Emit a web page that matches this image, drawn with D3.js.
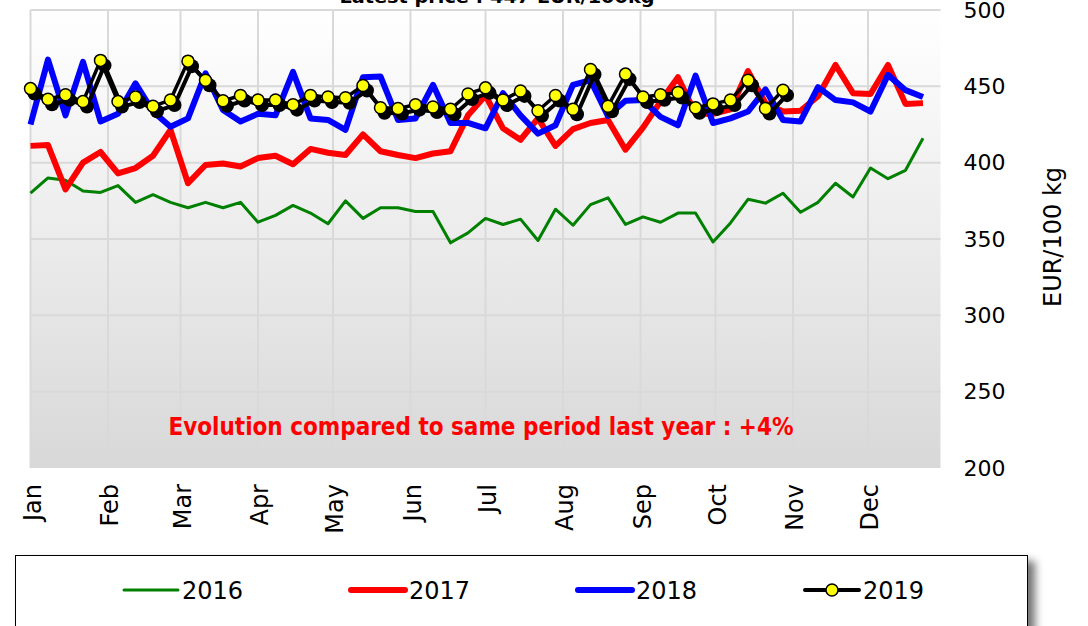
<!DOCTYPE html>
<html>
<head>
<meta charset="utf-8">
<script src="https://cdn.jsdelivr.net/npm/d3@7"></script>
<style>
  html, body { margin: 0; padding: 0; background: #fff; }
  svg { display: block; font-family: "DejaVu Sans", Verdana, sans-serif; }
</style>
</head>
<body>
<svg id="chart" width="1088" height="626"></svg>
<script>
// ── Data: weekly prices, EUR/100 kg ─────────────────────────────────────────
const years = ["2016", "2017", "2018", "2019"];

const y2016 = [380, 390, 388.5, 381.5, 380.5, 385, 374, 379, 374, 370.5,
               374, 370.5, 374, 361, 365.5, 372, 367, 360, 375, 363.5,
               370.5, 370.5, 368, 368, 347.5, 354, 363.5, 359.5, 363, 349,
               369.5, 359, 372.5, 377, 359.5, 364.5, 361, 367, 367, 348,
               360.5, 376, 373.5, 380, 367.5, 374, 386.5, 377.5, 396.5, 389.5,
               395, 416];

const y2017 = [411, 411.5, 382.5, 400, 407, 393, 396.5, 404.5, 421.5, 386.5,
               398.5, 399.5, 397.5, 403, 404.5, 399, 409, 406.5, 405, 418.5,
               407.5, 405, 403, 406, 407.5, 431, 444, 422.5, 415, 429,
               411, 422, 426, 428, 408.5, 423, 440, 456, 432, 432,
               435, 460, 439, 433.5, 434, 443.5, 464, 445.5, 445, 464,
               438.5, 439];

const y2018 = [425, 467.5, 431, 466, 427, 432, 452, 433.5, 423.5, 429,
               458.5, 434.5, 427, 432, 431, 459.5, 429, 428, 421.5, 456,
               456.5, 428, 429, 451, 426, 426, 422.5, 445.5, 431, 419,
               424.5, 451, 454, 430.5, 440.5, 441, 430, 424.5, 457, 426,
               429, 433.5, 448, 428, 427, 449.5, 441, 439.5, 433.5, 457.5,
               447.5, 443];

const y2019 = [448.5, 441.5, 444.5, 440, 467, 440, 443, 437, 441, 466.5,
               454, 440.5, 444, 441, 441, 438, 444, 443, 442.5, 450.5,
               436, 435.5, 438, 436.5, 435, 445, 449, 441, 447, 434,
               444, 435, 461, 437, 458, 443, 444.5, 446, 436, 438.5,
               441, 454, 435.5, 447.5];

const yTicks = [200, 250, 300, 350, 400, 450, 500];
const titleText = "Latest price : 447 EUR/100kg";
const noteText = "Evolution compared to same period last year : +4%";
const yLabel = "EUR/100 kg";

// ── Layout ───────────────────────────────────────────────────────────────────
const svg = d3.select("#chart");
const plot = { left: 30.5, right: 940.5, top: 10, bottom: 468 };

const start = new Date(2016, 0, 1);
const x = d3.scaleTime()
  .domain([start, new Date(2016, 11, 30)])
  .range([plot.left, plot.right]);

const y = d3.scaleLinear()
  .domain([200, 500])
  .range([plot.bottom, plot.top]);

const weekDate = i => d3.timeDay.offset(start, 7 * i);

// Background gradient
const defs = svg.append("defs");
const grad = defs.append("linearGradient")
  .attr("id", "bg").attr("x1", 0).attr("y1", 0).attr("x2", 0).attr("y2", 1);
grad.append("stop").attr("offset", "0%").attr("stop-color", "#ffffff");
grad.append("stop").attr("offset", "100%").attr("stop-color", "#d8d8d8");

const shadow = defs.append("filter").attr("id", "legendShadow")
  .attr("x", "-5%").attr("y", "-20%").attr("width", "115%").attr("height", "150%");
shadow.append("feDropShadow")
  .attr("dx", 7).attr("dy", 6).attr("stdDeviation", 4)
  .attr("flood-color", "#000").attr("flood-opacity", 0.55);

svg.append("rect")
  .attr("x", plot.left).attr("y", plot.top)
  .attr("width", plot.right - plot.left).attr("height", plot.bottom - plot.top)
  .attr("fill", "url(#bg)");

// Grid
const grid = svg.append("g").attr("stroke", "#d9d9d9").attr("stroke-width", 2);
grid.selectAll("line.h")
  .data(yTicks.filter(t => t > 200)).enter().append("line")
  .attr("x1", plot.left).attr("x2", plot.right)
  .attr("y1", d => y(d)).attr("y2", d => y(d));
grid.selectAll("line.v")
  .data(d3.timeMonth.range(start, new Date(2016, 11, 31))).enter().append("line")
  .attr("x1", d => x(d)).attr("x2", d => x(d))
  .attr("y1", plot.top).attr("y2", plot.bottom);

// Right y axis
const yAxis = svg.append("g")
  .attr("transform", `translate(${plot.right},0)`)
  .call(d3.axisRight(y).tickValues(yTicks).tickSize(0).tickPadding(23));
yAxis.select(".domain").remove();
yAxis.selectAll("text")
  .attr("font-family", "DejaVu Sans").attr("font-size", 22).attr("fill", "#000");

svg.append("text")
  .attr("transform", "translate(1061,237) rotate(-90)")
  .attr("text-anchor", "middle")
  .attr("font-size", 24)
  .text(yLabel);

// Month labels
const xAxis = svg.append("g")
  .attr("transform", `translate(0,${plot.bottom})`)
  .call(d3.axisBottom(x).ticks(d3.timeMonth.every(1)).tickFormat(d3.timeFormat("%b")).tickSize(0));
xAxis.select(".domain").remove();
xAxis.selectAll("text")
  .attr("font-family", "DejaVu Sans").attr("font-size", 24).attr("fill", "#000")
  .attr("text-anchor", "end")
  .attr("transform", "rotate(-90)")
  .attr("x", -16).attr("y", 0).attr("dy", "0.4em");

// Lines
const line = d3.line().x((d, i) => x(weekDate(i))).y(d => y(d));

svg.append("path").datum(y2016)
  .attr("fill", "none").attr("stroke", "#008000").attr("stroke-width", 3)
  .attr("stroke-linejoin", "round").attr("d", line);
svg.append("path").datum(y2017)
  .attr("fill", "none").attr("stroke", "#ff0000").attr("stroke-width", 6)
  .attr("stroke-linejoin", "round").attr("d", line);
svg.append("path").datum(y2018)
  .attr("fill", "none").attr("stroke", "#0000ff").attr("stroke-width", 6)
  .attr("stroke-linejoin", "round").attr("d", line);

// 2019: shadow first, then line + yellow markers
const sh = svg.append("g").attr("transform", "translate(4,5)");
sh.append("path").datum(y2019)
  .attr("fill", "none").attr("stroke", "#000").attr("stroke-width", 4).attr("d", line);
sh.selectAll("circle").data(y2019).enter().append("circle")
  .attr("cx", (d, i) => x(weekDate(i))).attr("cy", d => y(d)).attr("r", 7)
  .attr("fill", "#000");

svg.append("path").datum(y2019)
  .attr("fill", "none").attr("stroke", "#000").attr("stroke-width", 3.5)
  .attr("stroke-linejoin", "round").attr("d", line);
svg.append("g").selectAll("circle").data(y2019).enter().append("circle")
  .attr("cx", (d, i) => x(weekDate(i))).attr("cy", d => y(d)).attr("r", 6)
  .attr("fill", "#ffff00").attr("stroke", "#000").attr("stroke-width", 1.5);

// Title (partly cut at the top, as in the source image)
svg.append("text")
  .attr("x", 497).attr("y", 3)
  .attr("text-anchor", "middle")
  .attr("font-weight", "bold").attr("font-size", 17)
  .attr("textLength", 315).attr("lengthAdjust", "spacingAndGlyphs")
  .text(titleText);

// Evolution note
svg.append("text")
  .attr("x", 481).attr("y", 435)
  .attr("text-anchor", "middle")
  .attr("font-weight", "bold").attr("font-size", 24)
  .attr("fill", "#ff0000")
  .attr("textLength", 625).attr("lengthAdjust", "spacingAndGlyphs")
  .text(noteText);

// ── Legend ───────────────────────────────────────────────────────────────────
svg.append("rect")
  .attr("x", 15.5).attr("y", 555.5).attr("width", 1012).attr("height", 100)
  .attr("fill", "#fff").attr("stroke", "#000").attr("stroke-width", 1)
  .attr("filter", "url(#legendShadow)");

const legendItems = [
  { name: years[0], color: "#008000", width: 3, x: 124 },
  { name: years[1], color: "#ff0000", width: 6, x: 351 },
  { name: years[2], color: "#0000ff", width: 6, x: 578 },
  { name: years[3], color: "#000000", width: 4, x: 805, marker: true },
];

const lg = svg.append("g").selectAll("g").data(legendItems).enter().append("g")
  .attr("transform", d => `translate(${d.x},590)`);
lg.append("line")
  .attr("x1", 0).attr("x2", 54).attr("y1", 0).attr("y2", 0)
  .attr("stroke", d => d.color).attr("stroke-width", d => d.width)
  .attr("stroke-linecap", "round");
lg.filter(d => d.marker).append("circle")
  .attr("cx", 27).attr("cy", 0).attr("r", 6)
  .attr("fill", "#ffff00").attr("stroke", "#000").attr("stroke-width", 1.5);
lg.append("text")
  .attr("x", 58).attr("y", 9)
  .attr("font-size", 24)
  .text(d => d.name);
</script>
</body>
</html>
